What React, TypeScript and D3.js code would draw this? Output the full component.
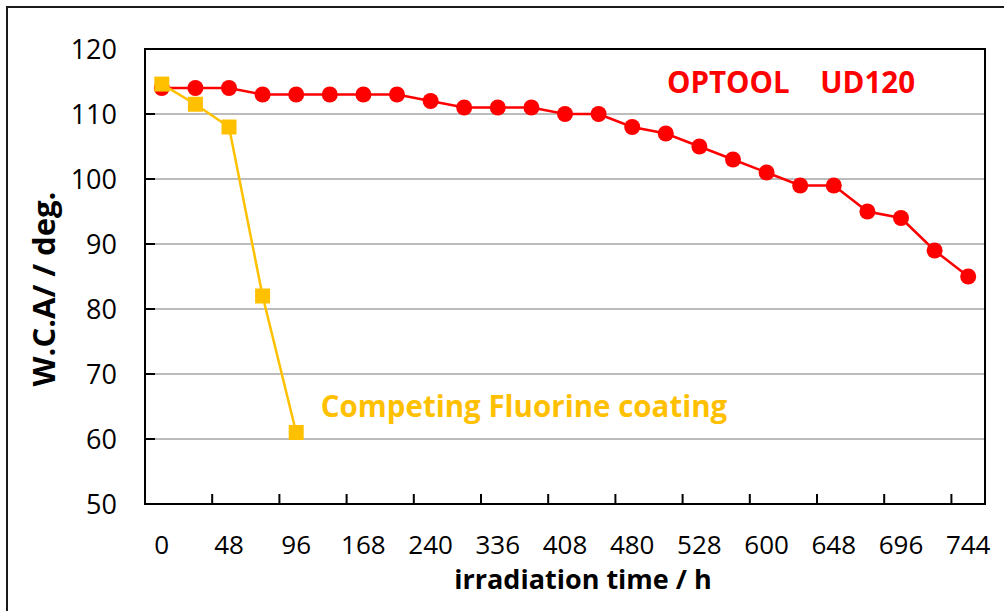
import React, { useEffect, useRef } from "react";
import * as d3 from "d3";

// irradiation time categories (h); only every other one is labelled on the axis
const hours = [
  "0", "24", "48", "72", "96", "144", "168", "216", "240", "288", "336", "384", "408",
  "456", "480", "504", "528", "576", "600", "624", "648", "672", "696", "720", "744",
];
const optoolValues = [
  114, 114, 114, 113, 113, 113, 113, 113, 112, 111, 111, 111, 110, 110, 108, 107, 105, 103,
  101, 99, 99, 95, 94, 89, 85,
];
const competitorValues = [114.6, 111.5, 108, 82, 61];
const yTicks = [50, 60, 70, 80, 90, 100, 110, 120];

const RED = "#ff0000";
const GOLD = "#ffc000";
const FONT = "'Open Sans', 'Noto Sans', sans-serif";

const W = 1004;
const H = 611;
const M = { left: 145, right: 985, top: 49, bottom: 504 };

export default function App() {
  const ref = useRef<SVGSVGElement>(null);

  useEffect(() => {
    if (!ref.current) return;
    const svg = d3.select(ref.current);
    svg.selectAll("*").remove();

    const x = d3.scaleBand<string>().domain(hours).range([M.left, M.right]).padding(0);
    const cx = (h: string) => (x(h) as number) + x.bandwidth() / 2;
    const y = d3.scaleLinear().domain([50, 120]).range([M.bottom, M.top]);

    // outer chart frame
    svg
      .append("rect")
      .attr("x", 7)
      .attr("y", 7)
      .attr("width", W + 20)
      .attr("height", H + 20)
      .attr("fill", "none")
      .attr("stroke", "#1a1a1a")
      .attr("stroke-width", 2);

    // gridlines
    svg
      .append("g")
      .selectAll("line")
      .data(yTicks.filter((t) => t > 50 && t < 120))
      .join("line")
      .attr("x1", M.left)
      .attr("x2", M.right)
      .attr("y1", (d) => y(d))
      .attr("y2", (d) => y(d))
      .attr("stroke", "#a6a6a6")
      .attr("stroke-width", 1.5);

    // plot frame
    svg
      .append("rect")
      .attr("x", M.left)
      .attr("y", M.top)
      .attr("width", M.right - M.left)
      .attr("height", M.bottom - M.top)
      .attr("fill", "none")
      .attr("stroke", "#000")
      .attr("stroke-width", 2);

    // y ticks (inside) and labels
    const gy = svg.append("g");
    gy.selectAll("line")
      .data(yTicks)
      .join("line")
      .attr("x1", M.left)
      .attr("x2", M.left + 10)
      .attr("y1", (d) => y(d))
      .attr("y2", (d) => y(d))
      .attr("stroke", "#000")
      .attr("stroke-width", 2);
    gy.selectAll("text")
      .data(yTicks)
      .join("text")
      .attr("x", 117)
      .attr("y", (d) => y(d))
      .attr("dy", "0.36em")
      .attr("text-anchor", "end")
      .attr("font-family", FONT)
      .attr("font-size", 27)
      .attr("fill", "#000")
      .text((d) => d);

    // x ticks every second category boundary, pointing up
    const gx = svg.append("g");
    const boundaries = hours.map((h) => x(h) as number).filter((_, i) => i > 0 && i % 2 === 0);
    gx.selectAll("line")
      .data(boundaries)
      .join("line")
      .attr("x1", (d) => d)
      .attr("x2", (d) => d)
      .attr("y1", M.bottom)
      .attr("y2", M.bottom - 10)
      .attr("stroke", "#000")
      .attr("stroke-width", 2);
    gx.selectAll("text")
      .data(hours.filter((_, i) => i % 2 === 0))
      .join("text")
      .attr("x", (d) => cx(d))
      .attr("y", 554)
      .attr("text-anchor", "middle")
      .attr("font-family", FONT)
      .attr("font-size", 26)
      .attr("fill", "#000")
      .text((d) => d);

    // axis titles
    svg
      .append("text")
      .attr("x", 583)
      .attr("y", 589)
      .attr("text-anchor", "middle")
      .attr("font-family", FONT)
      .attr("font-weight", "bold")
      .attr("font-size", 27)
      .text("irradiation time / h");
    svg
      .append("text")
      .attr("transform", "translate(55,289) rotate(-90)")
      .attr("text-anchor", "middle")
      .attr("font-family", FONT)
      .attr("font-weight", "bold")
      .attr("font-size", 31)
      .text("W.C.A/ / deg.");

    // OPTOOL series
    const line = d3
      .line<number>()
      .x((_, i) => cx(hours[i]))
      .y((d) => y(d));
    svg
      .append("path")
      .attr("d", line(optoolValues))
      .attr("fill", "none")
      .attr("stroke", RED)
      .attr("stroke-width", 2.5);
    svg
      .append("g")
      .selectAll("circle")
      .data(optoolValues)
      .join("circle")
      .attr("cx", (_, i) => cx(hours[i]))
      .attr("cy", (d) => y(d))
      .attr("r", 8)
      .attr("fill", RED);

    // competing coating series
    svg
      .append("path")
      .attr("d", line(competitorValues))
      .attr("fill", "none")
      .attr("stroke", GOLD)
      .attr("stroke-width", 2.5);
    const s = 15;
    svg
      .append("g")
      .selectAll("rect")
      .data(competitorValues)
      .join("rect")
      .attr("x", (_, i) => cx(hours[i]) - s / 2)
      .attr("y", (d) => y(d) - s / 2)
      .attr("width", s)
      .attr("height", s)
      .attr("fill", GOLD);

    // series labels
    svg
      .append("text")
      .attr("x", 791)
      .attr("y", 93)
      .attr("text-anchor", "middle")
      .attr("font-family", FONT)
      .attr("font-weight", "bold")
      .attr("font-size", 29.5)
      .attr("fill", RED)
      .style("white-space", "pre")
      .text("OPTOOL    UD120");
    svg
      .append("text")
      .attr("x", 524)
      .attr("y", 417)
      .attr("text-anchor", "middle")
      .attr("font-family", FONT)
      .attr("font-weight", "bold")
      .attr("font-size", 29.5)
      .attr("fill", GOLD)
      .text("Competing Fluorine coating");
  }, []);

  return (
    <svg
      ref={ref}
      width={W}
      height={H}
      style={{ position: "absolute", left: 0, top: 0, background: "#fff" }}
    />
  );
}
